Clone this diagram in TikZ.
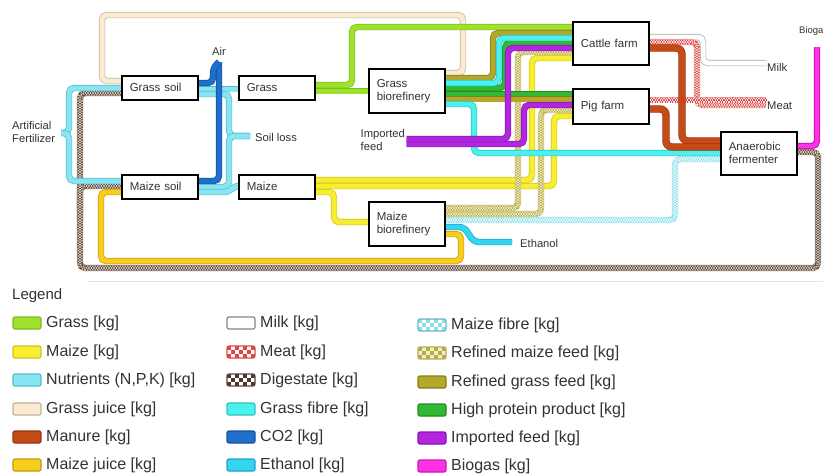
\documentclass[tikz,border=0pt]{standalone}
\usepackage{fontspec}
\setmainfont{Liberation Sans}
\usetikzlibrary{backgrounds}
\definecolor{cGrass}{HTML}{9EE22E}\definecolor{oGrass}{HTML}{7DBE1E}
\definecolor{cMaize}{HTML}{F6EE2E}\definecolor{oMaize}{HTML}{D2C41C}
\definecolor{cNut}{HTML}{88E6F2}\definecolor{oNut}{HTML}{58BCCC}
\definecolor{cGjuice}{HTML}{FAEBD2}\definecolor{oGjuice}{HTML}{C4B396}
\definecolor{cManure}{HTML}{C44A18}\definecolor{oManure}{HTML}{9A3410}
\definecolor{cMjuice}{HTML}{F7CD1E}\definecolor{oMjuice}{HTML}{C8980E}
\definecolor{oMilk}{HTML}{A8A8A8}
\definecolor{cCO2}{HTML}{1F6FCB}\definecolor{oCO2}{HTML}{15529A}
\definecolor{cGfib}{HTML}{4CF0EC}\definecolor{oGfib}{HTML}{2CC4C4}
\definecolor{cEth}{HTML}{35D5F2}\definecolor{oEth}{HTML}{1EA6C6}
\definecolor{cRgf}{HTML}{B4A82A}\definecolor{oRgf}{HTML}{877E16}
\definecolor{cHpp}{HTML}{33B833}\definecolor{oHpp}{HTML}{218A21}
\definecolor{cImp}{HTML}{B226E2}\definecolor{oImp}{HTML}{8418B0}
\definecolor{cBio}{HTML}{FF33E6}\definecolor{oBio}{HTML}{D010C0}
\definecolor{dL}{HTML}{DCD0C4}\definecolor{dD}{HTML}{5C463A}\definecolor{dO}{HTML}{857060}
\definecolor{mL}{HTML}{FFE4E4}\definecolor{mD}{HTML}{E04848}\definecolor{mO}{HTML}{E89090}
\definecolor{fL}{HTML}{F4EFC0}\definecolor{fD}{HTML}{B5AC50}\definecolor{fO}{HTML}{C4BC6C}
\definecolor{xL}{HTML}{F2FDFD}\definecolor{xD}{HTML}{88E0EC}\definecolor{xO}{HTML}{A4DCE4}
\definecolor{txt}{HTML}{333333}
\tikzset{
  fl/.style={line width=5pt, rounded corners=5pt},
  ol/.style 2 args={fl, draw=#1, preaction={draw=#2, line width=6.4pt}},
  olw/.style 2 args={line width=6.2pt, rounded corners=6pt, draw=#1, preaction={draw=#2, line width=7.4pt}},
  chk/.style n args={3}{fl, draw=#1, preaction={draw=#3, line width=6.2pt},
    postaction={draw=#2, dash pattern=on 1.25pt off 1.25pt},
    postaction={draw=#2, line width=1.7pt, dash pattern=on 1.25pt off 1.25pt, dash phase=1.25pt},
    postaction={draw=#1, line width=1.7pt, dash pattern=on 1.25pt off 1.25pt}},
  box/.style={draw=black, line width=1.6pt, fill=white, anchor=north west, inner xsep=8pt,
    text width=60pt, align=left, text=txt, font=\fontsize{11.5}{13}\selectfont},
  lbl/.style={text=txt, inner sep=1pt, align=left, font=\fontsize{11.2}{12.5}\selectfont},
  lg/.style={text=txt, inner sep=0pt, anchor=west, font=\fontsize{16}{18}\selectfont},
}
\newcommand\lgsw[5]{%
  \draw[fill=#3, draw=#4, line width=1.2pt, rounded corners=2pt] (#1,#2-6) rectangle (#1+28,#2+6);
  \node[lg] (lg-#1-#2) at (#1+33,#2) {#5};}
\newcommand\lgchk[6]{%
  \begin{scope}
  \clip[rounded corners=2pt] (#1,#2-6) rectangle (#1+28,#2+6);
  \fill[#3] (#1,#2-6) rectangle (#1+28,#2+6);
  \foreach \i in {0,...,6}{\foreach \j in {0,1,2}{\pgfmathtruncatemacro\s{\i+\j}%
    \ifodd\s\relax\else\fill[#4] (#1+4*\i,#2-6+4*\j) rectangle ++(4,4);\fi}}
  \end{scope}
  \draw[draw=#5, line width=1.2pt, rounded corners=2pt] (#1,#2-6) rectangle (#1+28,#2+6);
  \node[lg] (lg-#1-#2) at (#1+33,#2) {#6};}
\begin{document}
\begin{tikzpicture}[x=1pt,y=-1pt]
\useasboundingbox (0,0) rectangle (823,474);
% boxes
\node[box, minimum height=24pt] (gsoil) at (121,75) {Grass soil};
\node[box, minimum height=24pt] (msoil) at (121,174) {Maize soil};
\node[box, minimum height=24pt] (grass) at (238,75) {Grass};
\node[box, minimum height=24pt] (maize) at (238,174) {Maize};
\node[box, minimum height=44pt] (gbio) at (368,68) {Grass\\biorefinery};
\node[box, minimum height=44pt] (mbio) at (368,201) {Maize\\biorefinery};
\node[box, minimum height=43pt] (cattle) at (572,21) {Cattle farm};
\node[box, minimum height=35pt] (pig) at (572,88) {Pig farm};
\node[box, minimum height=43pt] (ferm) at (720,131) {Anaerobic\\fermenter};
% labels
\node[lbl] (air) at (219,51) {Air};
\node[lbl, anchor=west] (fert) at (11,132) {Artificial\\Fertilizer};
\node[lbl, anchor=west] (soilloss) at (254,137) {Soil loss};
\node[lbl, anchor=west, inner xsep=1.5pt] (imp) at (359,140) {Imported\\feed};
\node[lbl, anchor=west] (ethanol) at (519,243) {Ethanol};
\node[lbl, anchor=west] (milk) at (766,67) {Milk};
\node[lbl, anchor=west] (meat) at (766,106) {Meat};
\node[lbl, anchor=west, font=\fontsize{9.5}{11}\selectfont] (biogas) at (798,31) {Biogas};
\coordinate (ferttip) at (61,133);
\coordinate (sltip) at (250,136);
\coordinate (airtip) at (219,62);
\coordinate (ethtip) at (512,242);
\coordinate (biotip) at (817,47);
\begin{pgfonlayer}{background}
\fill[white] (0,0) rectangle (823,474);
\draw[gray!22, line width=0.6pt] (88,281) -- (823,281);
% digestate
\draw[chk={dL}{dD}{dO}] (80,220) -- (80,186) -- (msoil.west |- 0,186);
\draw[chk={dL}{dD}{dO}] (ferm.east |- 0,152) -- (818,152) -- (818,268) -- (80,268) -- (80,93) -- (gsoil.west |- 0,93);
% maize juice
\draw[ol={cMjuice}{oMjuice}] (mbio.east |- 0,234) -- (461,234) -- (461,261) -- (101,261) -- (101,192) -- (msoil.west |- 0,192);
% grass juice
\draw[ol={cGjuice}{oGjuice}] (gbio.east |- 0,73) -- (463,73) -- (463,15) -- (102,15) -- (102,81) -- (gsoil.west |- 0,81);
% nutrients
\draw[ol={cNut}{oNut}] (ferttip) -- (69,133) -- (69,88) -- (gsoil.west |- 0,88);
\draw[ol={cNut}{oNut}] (ferttip) -- (69,133) -- (69,181) -- (msoil.west |- 0,181);
\draw[ol={cNut}{oNut}] (gsoil.east |- 0,89) -- (grass.west |- 0,89);
\draw[ol={cNut}{oNut}] (gsoil.east |- 0,94) -- (229,94) -- (229,136) -- (sltip);
\draw[ol={cNut}{oNut}] (msoil.east |- 0,187) -- (229,187) -- (229,136) -- (sltip);
\draw[ol={cNut}{oNut}] (msoil.east |- 0,192) -- (229,192) -- (234,186) -- (maize.west |- 0,186);
% CO2
\draw[ol={cCO2}{oCO2}] (msoil.east |- 0,181) -- (219,181) -- (airtip);
\draw[ol={cCO2}{oCO2}] (gsoil.east |- 0,83) -- (213,83) -- (213,68) -- (airtip);
% maize
\draw[ol={cMaize}{oMaize}] (maize.east |- 0,192) -- (334,192) -- (334,222) -- (mbio.west |- 0,222);
\draw[ol={cMaize}{oMaize}] (maize.east |- 0,186) -- (554,186) -- (554,116) -- (pig.west |- 0,116);
\draw[ol={cMaize}{oMaize}] (maize.east |- 0,180) -- (532,180) -- (532,58) -- (cattle.west |- 0,58);
% refined maize feed, maize fibre, ethanol
\draw[chk={fL}{fD}{fO}] (mbio.east |- 0,214) -- (541,214) -- (541,110) -- (pig.west |- 0,110);
\draw[chk={fL}{fD}{fO}] (mbio.east |- 0,208) -- (518,208) -- (518,52) -- (cattle.west |- 0,52);
\draw[chk={xL}{xD}{xO}] (mbio.east |- 0,220) -- (675,220) -- (675,159) -- (ferm.west |- 0,159);
\draw[ol={cEth}{oEth}] (mbio.east |- 0,227) -- (464,227) -- (474,242) -- (ethtip);
% grass
\draw[ol={cGrass}{oGrass}] (grass.east |- 0,91) -- (gbio.west |- 0,91);
\draw[ol={cGrass}{oGrass}] (grass.east |- 0,85) -- (352,85) -- (352,27) -- (cattle.west |- 0,27);
% grass biorefinery products
\draw[ol={cRgf}{oRgf}] (gbio.east |- 0,78) -- (493,78) -- (493,33) -- (cattle.west |- 0,33);
\draw[ol={cHpp}{oHpp}] (gbio.east |- 0,88) -- (505,88) -- (505,43) -- (cattle.west |- 0,43);
\draw[ol={cGfib}{oGfib}] (gbio.east |- 0,83) -- (499,83) -- (499,38) -- (cattle.west |- 0,38);
\draw[ol={cHpp}{oHpp}] (gbio.east |- 0,94) -- (pig.west |- 0,94);
\draw[ol={cRgf}{oRgf}] (gbio.east |- 0,99) -- (pig.west |- 0,99);
\draw[ol={cGfib}{oGfib}] (gbio.east |- 0,104) -- (474,104) -- (474,153) -- (ferm.west |- 0,153);
% imported feed
\draw[ol={cImp}{oImp}] (imp.east |- 0,144) -- (524,144) -- (524,105) -- (pig.west |- 0,105);
\draw[ol={cImp}{oImp}] (imp.east |- 0,139) -- (508,139) -- (508,48) -- (cattle.west |- 0,48);
% milk, meat
\draw[ol={white}{oMilk}] (cattle.east |- 0,37) -- (703,37) -- (703,63) -- (milk.west |- 0,63);
\draw[chk={mL}{mD}{mO}] (cattle.east |- 0,42) -- (697,42) -- (697,105) -- (meat.west |- 0,105);
\draw[chk={mL}{mD}{mO}] (pig.east |- 0,100) -- (meat.west |- 0,100);
% manure
\draw[olw={cManure}{oManure}] (cattle.east |- 0,48) -- (682,48) -- (682,141) -- (ferm.west |- 0,141);
\draw[olw={cManure}{oManure}] (pig.east |- 0,109) -- (666,109) -- (666,147) -- (ferm.west |- 0,147);
% biogas
\draw[ol={cBio}{oBio}, line width=4pt] (ferm.east |- 0,146) -- (817,146) -- (biotip);
\end{pgfonlayer}
% legend
\node[text=txt, anchor=west, inner sep=0pt, font=\fontsize{15}{18}\selectfont] (legend) at (12,296) {Legend};
\lgsw{13}{323}{cGrass}{oGrass}{Grass [kg]}
\lgsw{13}{352}{cMaize}{oMaize}{Maize [kg]}
\lgsw{13}{380}{cNut}{oNut}{Nutrients (N,P,K) [kg]}
\lgsw{13}{409}{cGjuice}{oGjuice}{Grass juice [kg]}
\lgsw{13}{437}{cManure}{oManure}{Manure [kg]}
\lgsw{13}{465}{cMjuice}{oMjuice}{Maize juice [kg]}
\lgsw{227}{323}{white}{oMilk!80!black}{Milk [kg]}
\lgchk{227}{352}{white}{mD}{mD}{Meat [kg]}
\lgchk{227}{380}{white}{dD!80!black}{dD}{Digestate [kg]}
\lgsw{227}{409}{cGfib}{oGfib}{Grass fibre [kg]}
\lgsw{227}{437}{cCO2}{oCO2}{CO2 [kg]}
\lgsw{227}{465}{cEth}{oEth}{Ethanol [kg]}
\lgchk{418}{325}{white}{xD}{xD!80!black}{Maize fibre [kg]}
\lgchk{418}{353}{fL}{fD}{fD}{Refined maize feed [kg]}
\lgsw{418}{382}{cRgf}{oRgf}{Refined grass feed [kg]}
\lgsw{418}{410}{cHpp}{oHpp}{High protein product [kg]}
\lgsw{418}{438}{cImp}{oImp}{Imported feed [kg]}
\lgsw{418}{466}{cBio}{oBio}{Biogas [kg]}
\end{tikzpicture}
\end{document}
